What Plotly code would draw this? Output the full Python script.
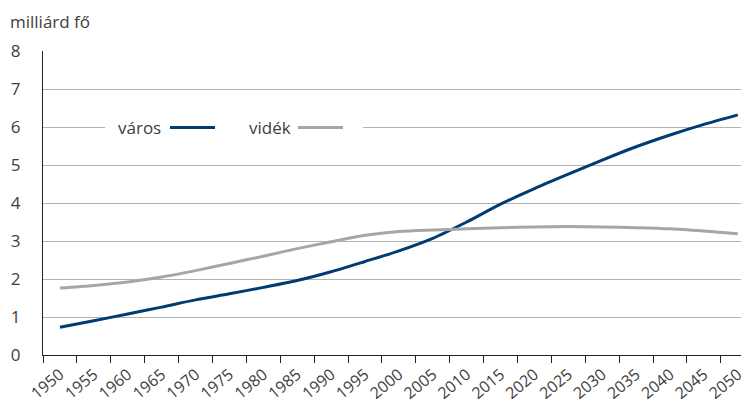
import plotly.graph_objects as go

years = [str(y) for y in range(1950, 2051, 5)]
varos = [0.73, 0.90, 1.08, 1.26, 1.45, 1.61, 1.78, 1.96, 2.19, 2.46, 2.74, 3.07, 3.50, 3.97,
         4.38, 4.76, 5.13, 5.48, 5.79, 6.07, 6.32]
videk = [1.76, 1.83, 1.92, 2.05, 2.22, 2.41, 2.60, 2.80, 2.98, 3.15, 3.25, 3.29, 3.32, 3.35,
         3.37, 3.38, 3.37, 3.35, 3.32, 3.26, 3.19]
y_ticks = [0, 1, 2, 3, 4, 5, 6, 7, 8]

BLUE = "#003b73"
GRAY = "#a6a6a6"
TXT = "#404040"
FONT = "Open Sans"

OFF = 8  # page body margin
W, H = 749 - OFF, 407 - OFF
L, R, T, B = 43 - OFF, 0, 51 - OFF, 52
PW, PH = W - L - R, H - T - B


def px(x):
    return (x - OFF - L) / PW


def py(y):
    return (H - B - (y - OFF)) / PH


fig = go.Figure()
fig.add_trace(go.Scatter(x=years, y=varos, mode="lines", name="város",
                         line=dict(color=BLUE, width=3, shape="spline", smoothing=0.8)))
fig.add_trace(go.Scatter(x=years, y=videk, mode="lines", name="vidék",
                         line=dict(color=GRAY, width=3, shape="spline", smoothing=0.8)))

fig.update_layout(
    width=W, height=H,
    margin=dict(l=L, r=R, t=T, b=B, autoexpand=False),
    plot_bgcolor="white", paper_bgcolor="white",
    showlegend=False,
    font=dict(family=FONT, color=TXT),
)
fig.update_xaxes(
    type="category", range=[-0.5, 20.33], tickson="boundaries",
    ticks="outside", ticklen=7, tickcolor="#222", tickwidth=1,
    showline=True, linecolor="#222", linewidth=1,
    showgrid=False, tickangle=-40, automargin=False, ticklabelstandoff=3,
    tickfont=dict(size=16, color=TXT, family=FONT),
)
fig.update_yaxes(
    range=[0, 8], tickvals=y_ticks, ticks="",
    showline=True, linecolor="#222", linewidth=1,
    showgrid=True, gridcolor="#b3b3b3", gridwidth=1,
    zeroline=False, ticklabelstandoff=18, automargin=False,
    tickfont=dict(size=17, color=TXT, family=FONT),
)

# axis title
fig.add_annotation(text="milliárd fő", xref="paper", yref="paper",
                   x=px(9), y=py(8.5), xanchor="left", yanchor="top", borderpad=0,
                   showarrow=False, font=dict(size=17, color=TXT, family=FONT))

# manual legend (text then line sample), with white background
fig.add_shape(type="rect", xref="paper", yref="paper",
              x0=px(105), x1=px(363), y0=py(138), y1=py(117),
              fillcolor="white", line=dict(width=0), layer="above")
leg_y = 127
for name, color, tx, l0, l1 in [("város", BLUE, 116, 170, 215), ("vidék", GRAY, 247, 298, 343)]:
    fig.add_annotation(text=name, xref="paper", yref="paper", x=px(tx), y=py(leg_y),
                       xanchor="left", yanchor="middle", showarrow=False,
                       font=dict(size=17, color=TXT, family=FONT))
    fig.add_shape(type="line", xref="paper", yref="paper",
                  x0=px(l0), x1=px(l1), y0=py(leg_y + 0.5), y1=py(leg_y + 0.5),
                  line=dict(color=color, width=3), layer="above")

fig.write_html("out.html")
